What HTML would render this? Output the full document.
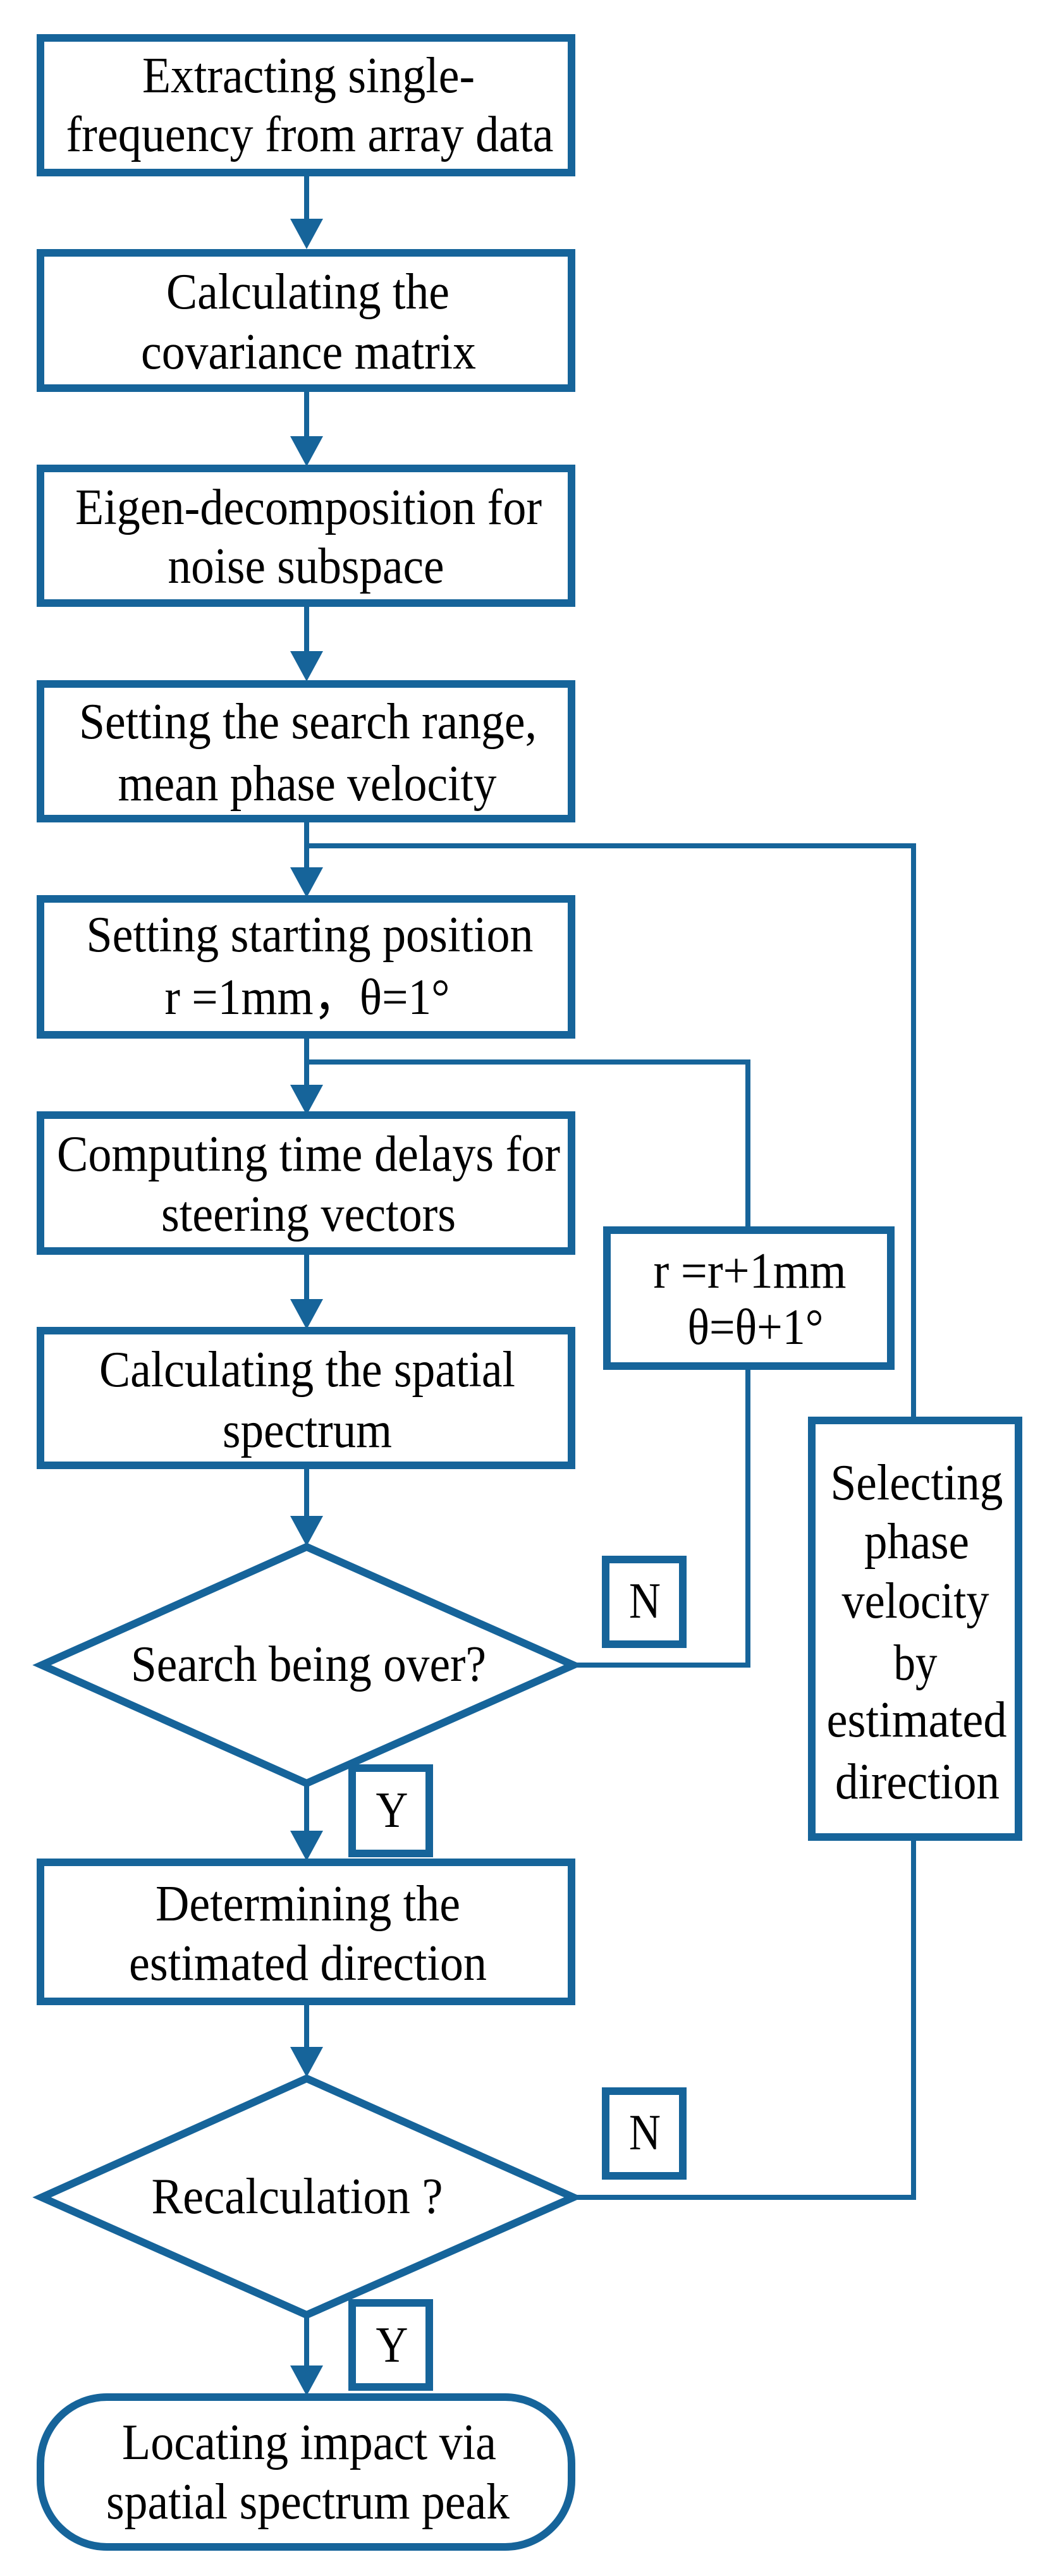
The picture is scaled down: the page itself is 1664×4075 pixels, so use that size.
<!DOCTYPE html>
<html><head><meta charset="utf-8"><style>
html,body{margin:0;padding:0;background:#fff;}
svg{display:block;}
text{font-family:"Liberation Serif","DejaVu Serif",serif;font-size:80px;fill:#000;text-anchor:middle;}
</style></head><body>
<svg width="1664" height="4075" viewBox="0 0 1664 4075" xmlns="http://www.w3.org/2000/svg">
<defs>
<g id="ah"><polygon points="-26,0 26,0 0,48" fill="#16649a"/></g>
</defs>
<g fill="none" stroke="#16649a" stroke-width="8">
<!-- main vertical connectors -->
<line x1="485" y1="273" x2="485" y2="350"/>
<line x1="485" y1="614" x2="485" y2="695"/>
<line x1="485" y1="954" x2="485" y2="1035"/>
<line x1="485" y1="1295" x2="485" y2="1375"/>
<line x1="485" y1="1637" x2="485" y2="1717"/>
<line x1="485" y1="1979" x2="485" y2="2058"/>
<line x1="485" y1="2318" x2="485" y2="2400"/>
<line x1="485" y1="2821" x2="485" y2="2900"/>
<line x1="485" y1="3166" x2="485" y2="3242"/>
<line x1="485" y1="3662" x2="485" y2="3745"/>
<!-- loop 1 -->
<polyline points="907,2634 1183,2634 1183,2161"/>
<polyline points="1183,1946 1183,1680 485,1680"/>
<!-- loop 2 -->
<polyline points="907,3476 1445,3476 1445,2906"/>
<polyline points="1445,2247 1445,1338 485,1338"/>
</g>
<g>
<use href="#ah" x="485" y="346"/>
<use href="#ah" x="485" y="690"/>
<use href="#ah" x="485" y="1030"/>
<use href="#ah" x="485" y="1372"/>
<use href="#ah" x="485" y="1716"/>
<use href="#ah" x="485" y="2055"/>
<use href="#ah" x="485" y="2398"/>
<use href="#ah" x="485" y="2896"/>
<use href="#ah" x="485" y="3238"/>
<use href="#ah" x="485" y="3742"/>
</g>
<g fill="#fff" stroke="#16649a" stroke-width="12">
<rect x="64" y="60" width="840" height="213"/>
<rect x="64" y="400" width="840" height="214"/>
<rect x="64" y="741" width="840" height="213"/>
<rect x="64" y="1082" width="840" height="213"/>
<rect x="64" y="1422" width="840" height="215"/>
<rect x="64" y="1764" width="840" height="215"/>
<rect x="960" y="1946" width="449" height="215"/>
<rect x="64" y="2105" width="840" height="213"/>
<polygon points="485,2447 907,2634 485,2821 66,2634"/>
<rect x="958" y="2467" width="122" height="134"/>
<rect x="1284" y="2247" width="327" height="659"/>
<rect x="557" y="2797" width="122" height="135"/>
<rect x="64" y="2946" width="840" height="220"/>
<polygon points="485,3288 907,3476 485,3662 66,3476"/>
<rect x="958" y="3308" width="122" height="134"/>
<rect x="557" y="3643" width="122" height="133"/>
<rect x="64" y="3792" width="840" height="237" rx="105" ry="105"/>
</g>
<g>
<text x="488" y="146" textLength="526" lengthAdjust="spacingAndGlyphs">Extracting single-</text>
<text x="490" y="239" textLength="771" lengthAdjust="spacingAndGlyphs">frequency from array data</text>
<text x="487" y="488" textLength="448" lengthAdjust="spacingAndGlyphs">Calculating the</text>
<text x="488" y="583" textLength="530" lengthAdjust="spacingAndGlyphs">covariance matrix</text>
<text x="488" y="829" textLength="738" lengthAdjust="spacingAndGlyphs">Eigen-decomposition for</text>
<text x="484" y="922" textLength="437" lengthAdjust="spacingAndGlyphs">noise subspace</text>
<text x="487" y="1168" textLength="724" lengthAdjust="spacingAndGlyphs">Setting the search range,</text>
<text x="486" y="1266" textLength="599" lengthAdjust="spacingAndGlyphs">mean phase velocity</text>
<text x="490" y="1505" textLength="707" lengthAdjust="spacingAndGlyphs">Setting starting position</text>
<text x="486" y="1604" textLength="451" lengthAdjust="spacingAndGlyphs">r =1mm，θ=1°</text>
<text x="488" y="1852" textLength="796" lengthAdjust="spacingAndGlyphs">Computing time delays for</text>
<text x="488" y="1947" textLength="466" lengthAdjust="spacingAndGlyphs">steering vectors</text>
<text x="486" y="2193" textLength="658" lengthAdjust="spacingAndGlyphs">Calculating the spatial</text>
<text x="486" y="2289" textLength="268" lengthAdjust="spacingAndGlyphs">spectrum</text>
<text x="488" y="2659" textLength="562" lengthAdjust="spacingAndGlyphs">Search being over?</text>
<text x="1186" y="2037" textLength="305" lengthAdjust="spacingAndGlyphs">r =r+1mm</text>
<text x="1195" y="2126" textLength="215" lengthAdjust="spacingAndGlyphs">θ=θ+1°</text>
<text x="1450" y="2372" textLength="273" lengthAdjust="spacingAndGlyphs">Selecting</text>
<text x="1450" y="2465" textLength="166" lengthAdjust="spacingAndGlyphs">phase</text>
<text x="1448" y="2559" textLength="233" lengthAdjust="spacingAndGlyphs">velocity</text>
<text x="1448" y="2657" textLength="69" lengthAdjust="spacingAndGlyphs">by</text>
<text x="1450" y="2747" textLength="285" lengthAdjust="spacingAndGlyphs">estimated</text>
<text x="1451" y="2845" textLength="260" lengthAdjust="spacingAndGlyphs">direction</text>
<text x="1020" y="2559" textLength="50" lengthAdjust="spacingAndGlyphs">N</text>
<text x="620" y="2890" textLength="51" lengthAdjust="spacingAndGlyphs">Y</text>
<text x="487" y="3038" textLength="482" lengthAdjust="spacingAndGlyphs">Determining the</text>
<text x="487" y="3132" textLength="566" lengthAdjust="spacingAndGlyphs">estimated direction</text>
<text x="470" y="3501" textLength="461" lengthAdjust="spacingAndGlyphs">Recalculation ?</text>
<text x="1020" y="3400" textLength="50" lengthAdjust="spacingAndGlyphs">N</text>
<text x="620" y="3736" textLength="51" lengthAdjust="spacingAndGlyphs">Y</text>
<text x="489" y="3890" textLength="592" lengthAdjust="spacingAndGlyphs">Locating impact via</text>
<text x="487" y="3984" textLength="638" lengthAdjust="spacingAndGlyphs">spatial spectrum peak</text>
</g>
</svg>
</body></html>
